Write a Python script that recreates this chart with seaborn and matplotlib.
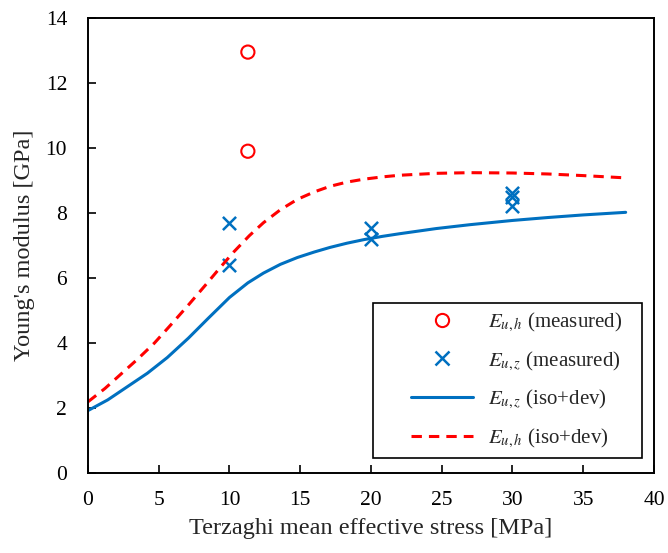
import matplotlib
matplotlib.use('Agg')
import matplotlib.pyplot as plt
import seaborn as sns
from matplotlib.lines import Line2D
from matplotlib.legend_handler import HandlerLine2D

# Ölçülen değerler
eh_x = [11.3, 11.3]
eh_y = [12.95, 9.9]
ez_x = [10, 10, 20, 20, 30, 30, 30]
ez_y = [7.7, 6.4, 7.53, 7.2, 8.6, 8.5, 8.2]

# Model eğrileri (iso+dev)
ez_line_x = [0, 1.4, 2.8, 4.2, 5.6, 7.1, 8.5, 10, 11.3, 12.4, 13.6, 14.8, 16,
             17.1, 18.3, 19.5, 20.8, 22, 24.6, 27, 30, 32.5, 35, 38]
ez_line_y = [1.92, 2.25, 2.66, 3.07, 3.55, 4.15, 4.76, 5.4, 5.85, 6.15, 6.42,
             6.63, 6.8, 6.94, 7.07, 7.18, 7.28, 7.36, 7.52, 7.64, 7.77, 7.86,
             7.94, 8.02]
eh_line_x = [0, 1.2, 2.4, 3.5, 4.7, 5.9, 7.1, 8.3, 9.4, 10.3, 11.4, 12.4, 13.6,
             14.8, 16, 17.1, 18.3, 19.5, 20.8, 22, 24.6, 27, 30, 32.5, 35, 38]
eh_line_y = [2.19, 2.6, 3.07, 3.5, 4.0, 4.58, 5.17, 5.78, 6.35, 6.8, 7.3, 7.7,
             8.1, 8.42, 8.65, 8.82, 8.95, 9.04, 9.11, 9.16, 9.22, 9.24, 9.23,
             9.2, 9.15, 9.08]

labels = [r'$E_{u,h}$ (measured)', r'$E_{u,z}$ (measured)',
          r'$E_{u,z}$ (iso+dev)', r'$E_{u,h}$ (iso+dev)']

BLUE = '#0070C0'
RED = '#FF0000'
DASH = (0, (3.4, 2.3))

sns.set_theme(style='white')
plt.rcParams['font.family'] = ['Liberation Serif', 'DejaVu Serif']
plt.rcParams['mathtext.fontset'] = 'stix'

fig = plt.figure(figsize=(6.68, 5.53), dpi=100)
ax = fig.add_axes([0.1317, 0.1447, 0.8473, 0.8228])

sns.lineplot(x=ez_line_x, y=ez_line_y, color=BLUE, linewidth=2.2, ax=ax)
sns.lineplot(x=eh_line_x, y=eh_line_y, color=RED, linewidth=2.2, ax=ax,
             linestyle=DASH)
sns.scatterplot(x=eh_x, y=eh_y, marker='o', s=90, facecolor='none',
                edgecolor=RED, linewidth=1.5, ax=ax)
sns.scatterplot(x=ez_x, y=ez_y, marker='x', s=90, color=BLUE,
                linewidth=1.8, ax=ax)

ax.set_xlim(0, 40)
ax.set_ylim(0, 14)
ax.set_xticks(range(0, 41, 5))
ax.set_yticks(range(0, 15, 2))
ax.tick_params(direction='in', length=6, width=1.2, labelsize=15.5,
               colors='black', bottom=True, left=True)
ax.tick_params(axis='x', pad=13)
ax.tick_params(axis='y', pad=15)
for s in ax.spines.values():
    s.set_color('black')
    s.set_linewidth(1.4)

ax.set_xlabel('Terzaghi mean effective stress [MPa]', fontsize=17.5, labelpad=6)
ax.set_ylabel("Young's modulus [GPa]", fontsize=17.5, labelpad=8)

handles = [
    Line2D([], [], linestyle='none', marker='o', markersize=9.5,
           markerfacecolor='none', markeredgecolor=RED, markeredgewidth=1.5),
    Line2D([], [], linestyle='none', marker='x', markersize=9.5,
           color=BLUE, markeredgewidth=1.8),
    Line2D([], [], color=BLUE, linewidth=2.2),
    Line2D([], [], color=RED, linewidth=2.2, linestyle=DASH),
]
leg = ax.legend(handles, labels, loc='lower left',
                bbox_to_anchor=(0.504, 0.033, 0.475, 0.347), mode='expand',
                borderaxespad=0, fontsize=15, frameon=True, fancybox=False,
                edgecolor='black', framealpha=1, borderpad=0.4,
                labelspacing=0.74, handlelength=4.4, handletextpad=0.72,
                handler_map={Line2D: HandlerLine2D(xpad=1.4)})
leg.get_frame().set_linewidth(1.2)

fig.savefig('out.png', dpi=100)
